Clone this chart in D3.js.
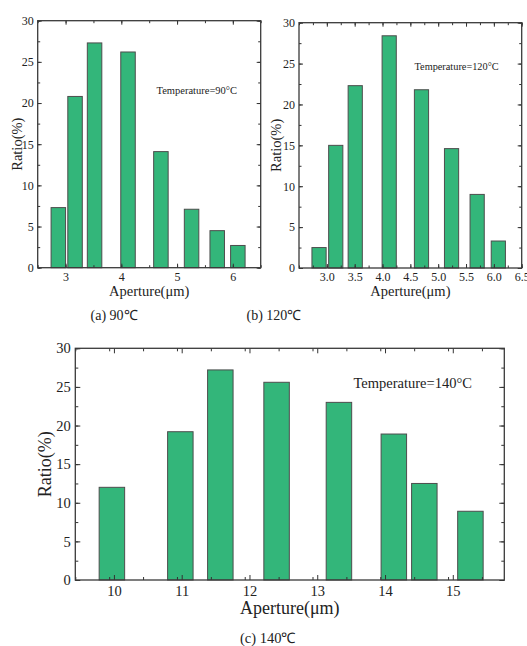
<!DOCTYPE html>
<html>
<head>
<meta charset="utf-8">
<script src="https://cdn.jsdelivr.net/npm/d3@7"></script>
<style>
  body { margin: 0; background: #fff; }
  svg text { font-family: "Liberation Serif", "Times New Roman", serif; fill: #222; }
</style>
</head>
<body>
<div id="chart"></div>
<script>
// values
var apertureA = [2.87, 3.17, 3.52, 4.12, 4.71, 5.26, 5.72, 6.09];
var ratioA    = [7.3, 20.8, 27.3, 26.2, 14.1, 7.1, 4.5, 2.7];

var apertureB = [2.86, 3.16, 3.51, 4.12, 4.70, 5.24, 5.70, 6.08];
var ratioB    = [2.5, 15.0, 22.3, 28.4, 21.8, 14.6, 9.0, 3.3];

var apertureC = [9.97, 10.98, 11.57, 12.40, 13.32, 14.13, 14.58, 15.26];
var ratioC    = [12.0, 19.2, 27.2, 25.6, 23.0, 18.9, 12.5, 8.9];

var xTicksA = [3, 4, 5, 6];
var xTicksB = [3.0, 3.5, 4.0, 4.5, 5.0, 5.5, 6.0, 6.5];
var xTicksC = [10, 11, 12, 13, 14, 15];
var yTicks  = [0, 5, 10, 15, 20, 25, 30];

var captions = ["(a) 90\u2103", "(b) 120\u2103", "(c) 140\u2103"];
var tempLabels = ["Temperature=90\u00b0C", "Temperature=120\u00b0C", "Temperature=140\u00b0C"];

var svg = d3.select("#chart").append("svg")
        .attr("width", 527)
        .attr("height", 646);

function range(a, b, step) {
    var out = [];
    for (var v = a; v <= b + 1e-9; v += step) out.push(+v.toFixed(4));
    return out;
}

function drawPanel(p) {
    var x = d3.scaleLinear().domain(p.xDomain).range([p.left, p.right]);
    var y = d3.scaleLinear().domain([0, 30]).range([p.bottom, p.top]);
    var g = svg.append("g");

    // bars
    g.selectAll("rect.bar")
            .data(p.values)
            .enter()
            .append("rect")
            .attr("class", "bar")
            .attr("x", function (d, i) { return x(p.aperture[i] - p.barW / 2); })
            .attr("width", function (d, i) { return x(p.aperture[i] + p.barW / 2) - x(p.aperture[i] - p.barW / 2); })
            .attr("y", function (d) { return y(d); })
            .attr("height", function (d) { return y(0) - y(d); })
            .attr("fill", "#33b67a")
            .attr("stroke", "#4d4d4d")
            .attr("stroke-width", 1);

    var xMinor = range(p.xDomain[0], p.xDomain[1], p.minorStep);
    var yMinor = range(0, 30, 2.5);

    function addAxis(axis, tx, ty) {
        var a = g.append("g")
                .attr("transform", "translate(" + tx + "," + ty + ")")
                .call(axis);
        a.select(".domain").remove();
        a.selectAll("line").attr("stroke", "#333").attr("stroke-width", 1);
        a.selectAll("text")
                .style("font-family", "Liberation Serif, Times New Roman, serif")
                .style("font-size", p.tickFont + "px")
                .attr("fill", "#222");
        return a;
    }

    // minor ticks on all sides
    addAxis(d3.axisBottom(x).tickValues(xMinor).tickSize(-p.minorLen).tickFormat(""), 0, p.bottom);
    addAxis(d3.axisTop(x).tickValues(xMinor).tickSize(-p.minorLen).tickFormat(""), 0, p.top);
    addAxis(d3.axisLeft(y).tickValues(yMinor).tickSize(-p.minorLen).tickFormat(""), p.left, 0);
    addAxis(d3.axisRight(y).tickValues(yMinor).tickSize(-p.minorLen).tickFormat(""), p.right, 0);

    // major ticks
    addAxis(d3.axisBottom(x).tickValues(p.xTicks).tickSize(-p.majorLen).tickSizeOuter(0)
            .tickPadding(p.xPad).tickFormat(p.xFormat), 0, p.bottom);
    addAxis(d3.axisTop(x).tickValues(p.xTicks).tickSize(-p.majorLen).tickFormat(""), 0, p.top);
    addAxis(d3.axisLeft(y).tickValues(yTicks).tickSize(-p.majorLen).tickSizeOuter(0)
            .tickPadding(p.yPad).tickFormat(d3.format("d")), p.left, 0);
    addAxis(d3.axisRight(y).tickValues(yTicks).tickSize(-p.majorLen).tickFormat(""), p.right, 0);

    // frame
    g.append("rect")
            .attr("x", p.left)
            .attr("y", p.top)
            .attr("width", p.right - p.left)
            .attr("height", p.bottom - p.top)
            .attr("fill", "none")
            .attr("stroke", "#3a3a3a")
            .attr("stroke-width", 1.3);

    // axis titles
    g.append("text")
            .attr("x", (p.left + p.right) / 2)
            .attr("y", p.xTitleY)
            .attr("text-anchor", "middle")
            .style("font-size", p.titleFont + "px")
            .text("Aperture(\u03bcm)");

    g.append("text")
            .attr("transform", "translate(" + p.yTitleX + "," + ((p.top + p.bottom) / 2) + ") rotate(-90)")
            .attr("text-anchor", "middle")
            .style("font-size", p.titleFont + "px")
            .text("Ratio(%)");

    g.append("text")
            .attr("x", p.tempX)
            .attr("y", p.tempY)
            .style("font-size", p.tempFont + "px")
            .text(p.temp);

    g.append("text")
            .attr("x", p.capX)
            .attr("y", p.capY)
            .style("font-size", p.capFont + "px")
            .text(p.caption);
}

drawPanel({
    aperture: apertureA, values: ratioA, xTicks: xTicksA, xFormat: d3.format("d"),
    xDomain: [2.5, 6.5], minorStep: 0.5, barW: 0.26,
    left: 37.7, right: 260.7, top: 20.7, bottom: 267.7,
    majorLen: 4, minorLen: 2.5, tickFont: 12, xPad: 4.5, yPad: 4,
    titleFont: 14.5, xTitleY: 296, yTitleX: 22,
    temp: tempLabels[0], tempX: 156.5, tempY: 94, tempFont: 10.5,
    caption: captions[0], capX: 90.5, capY: 320, capFont: 14
});

drawPanel({
    aperture: apertureB, values: ratioB, xTicks: xTicksB, xFormat: d3.format(".1f"),
    xDomain: [2.5, 6.5], minorStep: 0.25, barW: 0.255,
    left: 299, right: 521.7, top: 22.7, bottom: 268,
    majorLen: 4, minorLen: 2.5, tickFont: 12, xPad: 4.5, yPad: 4,
    titleFont: 14.5, xTitleY: 296, yTitleX: 281,
    temp: tempLabels[1], tempX: 414.5, tempY: 69.5, tempFont: 10.3,
    caption: captions[1], capX: 246.5, capY: 320, capFont: 14
});

drawPanel({
    aperture: apertureC, values: ratioC, xTicks: xTicksC, xFormat: d3.format("d"),
    xDomain: [9.43, 15.76], minorStep: 0.5, barW: 0.376,
    left: 75.3, right: 504.3, top: 348.3, bottom: 580,
    majorLen: 5, minorLen: 3, tickFont: 14.5, xPad: 6, yPad: 4.5,
    titleFont: 18, xTitleY: 614, yTitleX: 51,
    temp: tempLabels[2], tempX: 353.5, tempY: 388, tempFont: 14.5,
    caption: captions[2], capX: 240, capY: 643, capFont: 14.5
});
</script>
</body>
</html>
